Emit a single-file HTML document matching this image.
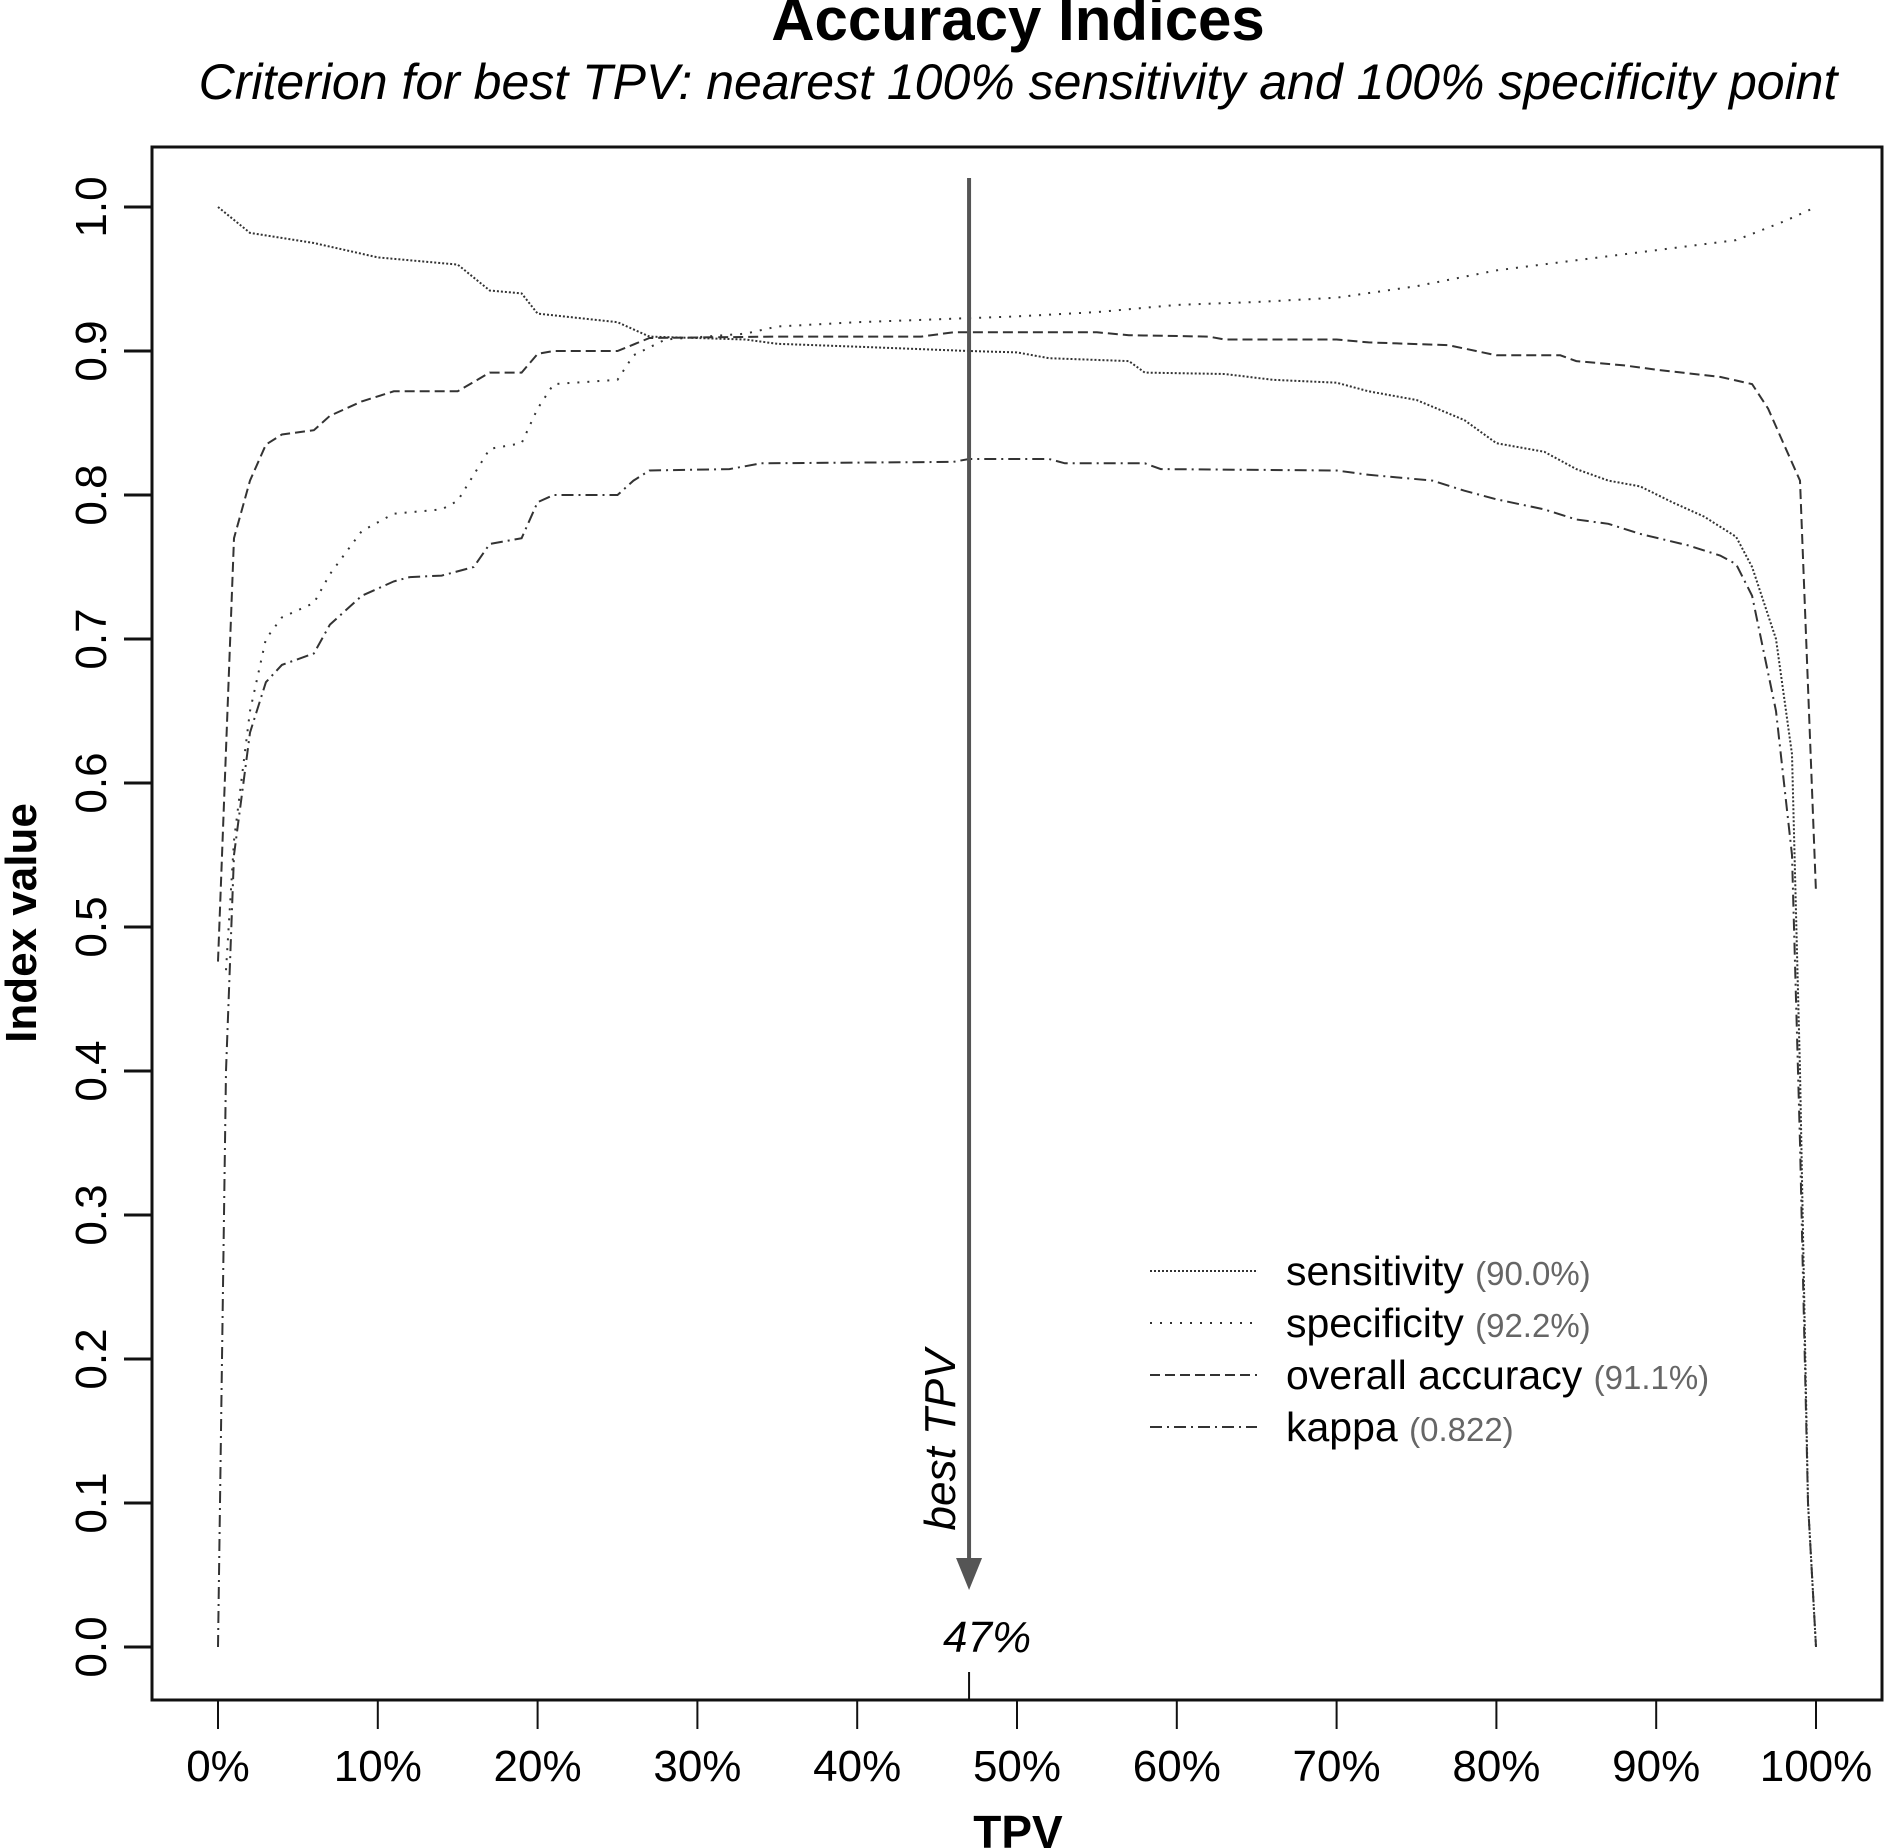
<!DOCTYPE html>
<html><head><meta charset="utf-8"><style>
html,body{margin:0;padding:0;background:#fff;}
svg{display:block;font-family:"Liberation Sans",Arial,sans-serif;}
</style></head><body>
<svg id="chart" width="1885" height="1848" viewBox="0 0 1885 1848" xmlns="http://www.w3.org/2000/svg">
<text x="1018" y="40" font-size="60" font-weight="bold" text-anchor="middle">Accuracy Indices</text>
<text x="1018" y="99" font-size="50" font-style="italic" text-anchor="middle">Criterion for best TPV: nearest 100% sensitivity and 100% specificity point</text>
<rect x="152" y="147" width="1730" height="1553" fill="none" stroke="#111" stroke-width="3"/>
<g id="yaxis"></g>
<g id="xaxis"></g>
<g id="series"></g>
<text transform="translate(36,923) rotate(-90)" font-size="44" font-weight="bold" text-anchor="middle">Index value</text>
<text x="1018" y="1848" font-size="46" font-weight="bold" text-anchor="middle">TPV</text>
<g id="best"></g>
<g id="legend"></g>
</svg>
<script>
const xTicks=[0,10,20,30,40,50,60,70,80,90,100];
const yTicks=[0,0.1,0.2,0.3,0.4,0.5,0.6,0.7,0.8,0.9,1.0];
const bestTPV=47;
const sensX=[0,2,6,10,15,17,19,20,25,27,33,35,40,47,50,52,57,58,63,66,70,72,75,78,80,83,85,87,89,91,93,95,96,97.5,98.5,99,99.5,100];
const sensY=[1.0,0.982,0.975,0.965,0.96,0.942,0.94,0.926,0.92,0.91,0.908,0.905,0.903,0.90,0.899,0.895,0.893,0.885,0.884,0.88,0.878,0.872,0.866,0.852,0.836,0.83,0.818,0.81,0.806,0.795,0.785,0.771,0.75,0.70,0.62,0.40,0.10,0.0];
const specX=[0.5,1,2,3,4,6,7,8,9,11,14,15,17,19,20,21,25,26,28,33,35,40,45,50,55,60,65,70,75,80,85,90,95,98,100];
const specY=[0.47,0.56,0.65,0.70,0.715,0.725,0.745,0.76,0.775,0.787,0.79,0.796,0.832,0.836,0.86,0.877,0.88,0.897,0.908,0.912,0.917,0.92,0.922,0.924,0.927,0.932,0.934,0.937,0.945,0.956,0.963,0.97,0.977,0.99,1.0];
const accX=[0,1,2,3,4,6,7,9,11,15,17,19,20,21,25,27,35,44,46,55,57,62,63,70,72,77,80,84,85,88,90,94,96,97,98,99,100];
const accY=[0.476,0.77,0.81,0.835,0.842,0.845,0.855,0.865,0.872,0.872,0.885,0.885,0.898,0.90,0.90,0.909,0.91,0.91,0.913,0.913,0.911,0.91,0.908,0.908,0.906,0.904,0.897,0.897,0.893,0.89,0.887,0.882,0.877,0.86,0.835,0.81,0.524];
const kapX=[0,0.5,1,2,3,4,6,7,9,11,12,14,16,17,19,20,21,25,26,27,32,34,46,47,52,53,58,59,70,72,76,78,80,83,85,87,89,92,94,95,96,97.5,98.5,99,99.5,100];
const kapY=[0.0,0.4,0.55,0.635,0.67,0.682,0.69,0.71,0.73,0.74,0.743,0.744,0.75,0.766,0.77,0.795,0.80,0.80,0.81,0.817,0.818,0.822,0.823,0.825,0.825,0.822,0.822,0.818,0.817,0.814,0.81,0.803,0.797,0.79,0.783,0.78,0.773,0.765,0.758,0.752,0.73,0.65,0.55,0.35,0.10,0.0];
const legendNames=["sensitivity","specificity","overall accuracy","kappa"];
const legendVals=["(90.0%)","(92.2%)","(91.1%)","(0.822)"];

const NS="http://www.w3.org/2000/svg";
function sx(v){return 218+v/100*1598;}
function sy(v){return 1647-v*1440;}
function mk(tag,attrs,parent){const e=document.createElementNS(NS,tag);for(const k in attrs)e.setAttribute(k,attrs[k]);parent.appendChild(e);return e;}
const ya=document.getElementById('yaxis'),xa=document.getElementById('xaxis');
yTicks.forEach(v=>{
  const t=mk('line',{x1:124,x2:152,y1:sy(v),y2:sy(v),stroke:'#111','stroke-width':3},ya);
  
  
  const l=mk('text',{transform:`translate(106,${sy(v)}) rotate(-90)`,'font-size':44,'text-anchor':'middle'},ya);
  
  
  l.textContent=v.toFixed(1);
});
xTicks.forEach(v=>{
  const t=mk('line',{x1:sx(v),x2:sx(v),y1:1700,y2:1729,stroke:'#111','stroke-width':2},xa);
  
  
  const l=mk('text',{x:sx(v),y:1781,'font-size':44,'text-anchor':'middle'},xa);
  
  
  l.textContent=v+'%';
});
const sg=document.getElementById('series');
const styles=[
 {xs:sensX,ys:sensY,dash:'2,2',name:'sensitivity-line'},
 {xs:specX,ys:specY,dash:'2,8',name:'specificity-line'},
 {xs:accX,ys:accY,dash:'10,5',name:'overall-accuracy-line'},
 {xs:kapX,ys:kapY,dash:'12,5,2,5',name:'kappa-line'}];
styles.forEach(s=>{
  const d=s.xs.map((x,i)=>(i?'L':'M')+sx(x).toFixed(1)+','+sy(s.ys[i]).toFixed(1)).join('');
  const p=mk('path',{d:d,fill:'none',stroke:'#333','stroke-width':2,'stroke-dasharray':s.dash},sg);
  
  
});
const bg=document.getElementById('best');
const bx=sx(bestTPV);
mk('line',{x1:bx,x2:bx,y1:178,y2:1560,stroke:'#555','stroke-width':4},bg);
mk('path',{d:`M${bx-13},1558 L${bx+13},1558 L${bx},1590 Z`,fill:'#555'},bg);
mk('line',{x1:bx,x2:bx,y1:1672,y2:1700,stroke:'#111','stroke-width':2},bg);
const bl=mk('text',{transform:`translate(955,1440) rotate(-90)`,'font-size':44,'font-style':'italic','text-anchor':'middle'},bg);


bl.textContent='best TPV';
const bv=mk('text',{x:bx+18,y:1652,'font-size':44,'font-style':'italic','text-anchor':'middle'},bg);


bv.textContent=bestTPV+'%';
const lg=document.getElementById('legend');
legendNames.forEach((n,i)=>{
  const y=1271+i*52;
  const ln=mk('line',{x1:1150,x2:1257,y1:y,y2:y,stroke:'#333','stroke-width':2,'stroke-dasharray':styles[i].dash},lg);
  
  
  const t=mk('text',{x:1286,y:y+14,'font-size':41},lg);
  
  
  t.textContent=n+' ';
  const ts=mk('tspan',{'font-size':33,fill:'#666'},t);
  ts.textContent=legendVals[i];
});
</script>
</body></html>
